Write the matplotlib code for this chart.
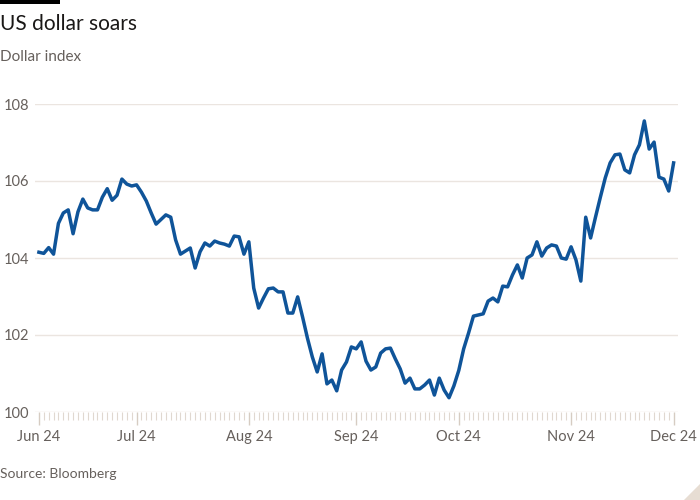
import numpy as np
import matplotlib
matplotlib.use("Agg")
import matplotlib.pyplot as plt
from matplotlib.patches import Polygon

plt.rcParams['font.family'] = ['Lato', 'DejaVu Sans']

# Dollar index, one value per weekday
jun_vals = [104.15, 104.12, 104.27, 104.10, 104.90, 105.17, 105.25, 104.63, 105.20, 105.53,
            105.30, 105.25, 105.25, 105.58, 105.80, 105.50, 105.63, 106.05, 105.92, 105.87]
jul_vals = [105.90, 105.71, 105.48, 105.17, 104.88, 105.00, 105.12, 105.06, 104.47, 104.10,
            104.18, 104.26, 103.74, 104.16, 104.39, 104.31, 104.44, 104.39, 104.36, 104.31,
            104.57, 104.55, 104.10]
aug_vals = [104.42, 103.22, 102.70, 102.96, 103.20, 103.22, 103.12, 103.12, 102.57, 102.57,
            102.99, 102.47, 101.92, 101.43, 101.04, 101.51, 100.73, 100.83, 100.55, 101.09,
            101.30, 101.69]
sep_vals = [101.64, 101.82, 101.32, 101.09, 101.17, 101.53, 101.64, 101.66, 101.38, 101.12,
            100.75, 100.88, 100.60, 100.60, 100.70, 100.83, 100.44, 100.88, 100.57, 100.37,
            100.68]
oct_vals = [101.08, 101.64, 102.05, 102.49, 102.52, 102.55, 102.88, 102.96, 102.86, 103.27,
            103.25, 103.56, 103.82, 103.48, 104.00, 104.08, 104.42, 104.05, 104.26, 104.34,
            104.31, 104.00, 103.97]
nov_vals = [104.29, 103.95, 103.40, 105.06, 104.52, 105.06, 105.58, 106.08, 106.47, 106.68,
            106.70, 106.29, 106.21, 106.68, 106.94, 107.56, 106.83, 107.01, 106.10, 106.05,
            105.74]
dec_vals = [106.47]

months = ["Jun 24", "Jul 24", "Aug 24", "Sep 24", "Oct 24", "Nov 24", "Dec 24"]
y_ticks = [100, 102, 104, 106, 108]

monthly = [jun_vals, jul_vals, aug_vals, sep_vals, oct_vals, nov_vals, dec_vals]
values = np.concatenate(monthly)
x = np.arange(len(values))
month_starts = np.cumsum([0] + [len(m) for m in monthly[:-1]])

grid_col = '#ebe5e0'
tick_col = '#e0d8d0'
text_col = '#66605c'

fig = plt.figure(figsize=(7, 5), dpi=100)
ax = fig.add_axes([35 / 700, 88 / 500, 643 / 700, 308 / 500])

ax.plot(x, values, color='#0f5499', lw=2.5, solid_joinstyle='round', clip_on=False, zorder=3)

ax.set_xlim(-0.8, len(values) - 0.1)
ax.set_ylim(100, 108)
ax.set_yticks(y_ticks)
ax.set_yticklabels([str(t) for t in y_ticks])
ax.grid(axis='y', color=grid_col, lw=1)
ax.set_axisbelow(True)

ax.set_xticks(month_starts)
ax.set_xticklabels(months)
ax.set_xticks(x, minor=True)
ax.tick_params(axis='x', which='major', length=9, width=1, color='#d6ccc2',
               labelsize=10.5, labelcolor=text_col, pad=4)
ax.tick_params(axis='x', which='minor', length=5.5, width=0.8, color=tick_col)
ax.tick_params(axis='y', length=0, labelsize=10.5, labelcolor=text_col, pad=4)
for s in ax.spines.values():
    s.set_visible(False)

# FT-style black bar top left and beige corner bottom right
fig.add_artist(plt.Rectangle((0, 496 / 500), 60 / 700, 4 / 500, transform=fig.transFigure,
                             color='black', lw=0))
fig.add_artist(Polygon([[1, 0], [1, 16 / 500], [1 - 16 / 700, 0]], closed=True,
                       transform=fig.transFigure, color='#e7ddd3', lw=0))

fig.text(0, 1 - 24 / 500, "US dollar soars", fontsize=15, color='#1a1817', va='center')
fig.text(0, 1 - 57 / 500, "Dollar index", fontsize=11, color=text_col, va='center')
fig.text(0, 1 - 474 / 500, "Source: Bloomberg", fontsize=10, color=text_col, va='center')

fig.savefig("out.png", dpi=100, facecolor='white')
